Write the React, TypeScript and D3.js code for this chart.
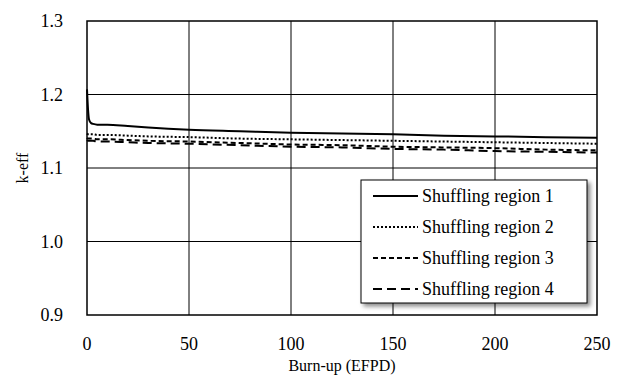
import React from 'react'
import { scaleLinear, line, curveMonotoneX, range } from 'd3'

// burn-up points (EFPD)
const burnup = [0, 0.5, 1, 2, 3, 5, 10, 20, 30, 50, 75, 100, 125, 150, 175, 200, 225, 250]
const region1 = [1.207, 1.18, 1.166, 1.161, 1.16, 1.159, 1.159, 1.157, 1.155, 1.152, 1.15, 1.148, 1.147, 1.146, 1.144, 1.143, 1.142, 1.141]
const region2 = [1.147, 1.146, 1.146, 1.146, 1.146, 1.145, 1.145, 1.144, 1.143, 1.142, 1.14, 1.139, 1.138, 1.137, 1.136, 1.135, 1.134, 1.133]
const region3 = [1.141, 1.14, 1.14, 1.14, 1.14, 1.139, 1.139, 1.138, 1.137, 1.136, 1.134, 1.132, 1.131, 1.129, 1.128, 1.127, 1.125, 1.124]
const region4 = [1.138, 1.137, 1.137, 1.137, 1.137, 1.136, 1.136, 1.135, 1.134, 1.133, 1.131, 1.129, 1.128, 1.126, 1.125, 1.123, 1.122, 1.121]

const seriesNames = ['Shuffling region 1', 'Shuffling region 2', 'Shuffling region 3', 'Shuffling region 4']
const seriesValues = [region1, region2, region3, region4]
const dashes = ['none', '2,2', '5,3', '9,5']

const xTicks = [0, 50, 100, 150, 200, 250]
const yTicks = [0.9, 1.0, 1.1, 1.2, 1.3]

const App = () => {
    const width = 621
    const height = 379
    const margin = { left: 87, right: 24, top: 21, bottom: 64 }
    const font = '"Liberation Serif", "Times New Roman", Times, serif'

    const x = scaleLinear().domain([0, 250]).range([margin.left, width - margin.right])
    const y = scaleLinear().domain([0.9, 1.3]).range([height - margin.bottom, margin.top])

    const path = line<number>()
        .x((d, i) => x(burnup[i]))
        .y(d => y(d))
        .curve(curveMonotoneX)

    const legend = { x: 361, y: 180, w: 226, h: 123, row: 31 }

    return (
        <svg width={width} height={height} style={{ position: 'absolute', left: 0, top: 0, background: '#fff', fontFamily: font }}>
            <defs>
                <filter id="shadow" x="-10%" y="-10%" width="130%" height="130%">
                    <feDropShadow dx="3" dy="3" stdDeviation="2" floodColor="#000" floodOpacity="0.45" />
                </filter>
            </defs>

            {/* grid */}
            {xTicks.slice(1, -1).map(t => (
                <line key={'gx' + t} x1={x(t)} x2={x(t)} y1={y(0.9)} y2={y(1.3)} stroke="#000" strokeWidth={1} />
            ))}
            {yTicks.slice(1, -1).map(t => (
                <line key={'gy' + t} x1={x(0)} x2={x(250)} y1={y(t)} y2={y(t)} stroke="#000" strokeWidth={1} />
            ))}

            {/* series */}
            {seriesValues.map((vals, i) => (
                <path key={i} d={path(vals) || ''} fill="none" stroke="#000" strokeWidth={2}
                    strokeDasharray={dashes[i]} />
            ))}

            {/* frame */}
            <rect x={x(0)} y={y(1.3)} width={x(250) - x(0)} height={y(0.9) - y(1.3)} fill="none" stroke="#000" strokeWidth={1.5} />

            {/* ticks */}
            {xTicks.map(t => (
                <text key={'xt' + t} x={x(t)} y={y(0.9) + 35} textAnchor="middle" fontSize={18}>{t}</text>
            ))}
            {yTicks.map(t => (
                <text key={'yt' + t} x={x(0) - 24} y={y(t) + 6} textAnchor="end" fontSize={18}>{t.toFixed(1)}</text>
            ))}

            <text x={(x(0) + x(250)) / 2} y={371} textAnchor="middle" fontSize={16}>Burn-up  (EFPD)</text>
            <text transform={`translate(28,${(y(0.9) + y(1.3)) / 2}) rotate(-90)`} textAnchor="middle" fontSize={16}>k-eff</text>

            {/* legend */}
            <g>
                <rect x={legend.x} y={legend.y} width={legend.w} height={legend.h} fill="#fff" stroke="#000" strokeWidth={1} filter="url(#shadow)" />
                {range(seriesNames.length).map(i => {
                    const cy = legend.y + 16 + i * legend.row
                    return (
                        <g key={'lg' + i}>
                            <line x1={legend.x + 12} x2={legend.x + 57} y1={cy} y2={cy} stroke="#000" strokeWidth={2} strokeDasharray={dashes[i]} />
                            <text x={legend.x + 61} y={cy + 6} fontSize={18}>{seriesNames[i]}</text>
                        </g>
                    )
                })}
            </g>
        </svg>
    )
}

export default App
